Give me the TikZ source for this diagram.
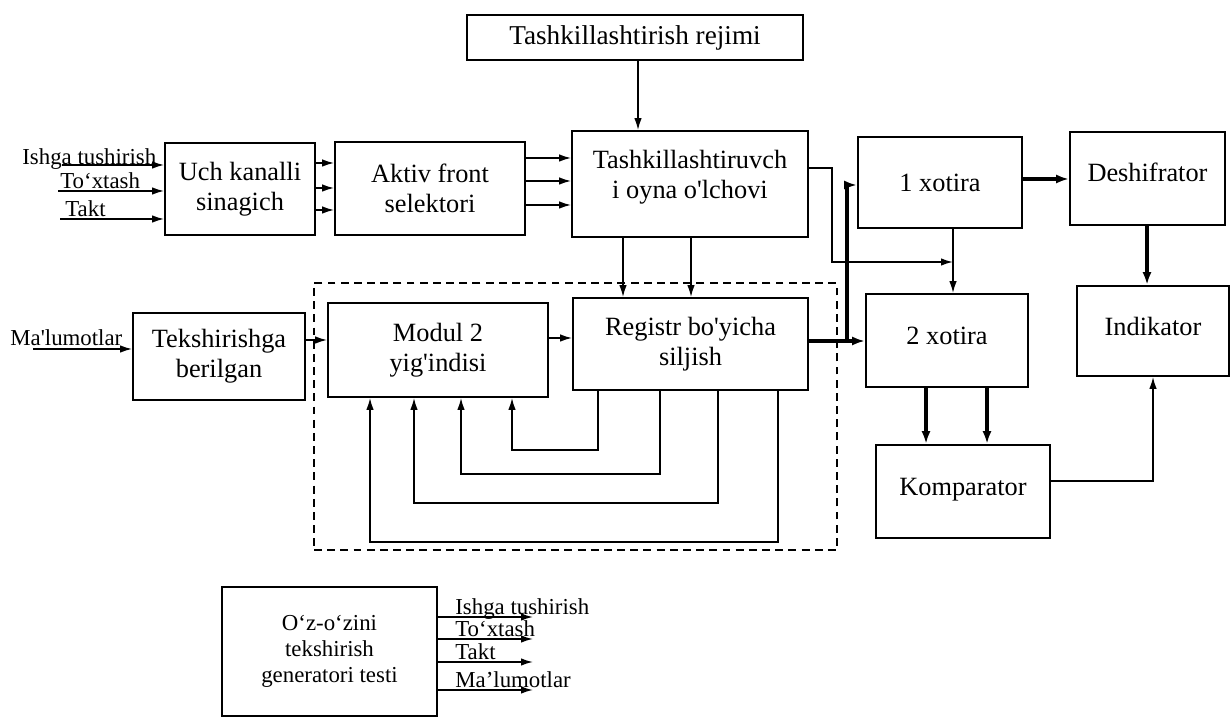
\documentclass[tikz,border=0pt]{standalone}
\usepackage{fontspec}
\setmainfont{Liberation Serif}
\usetikzlibrary{arrows.meta,positioning}
\newcommand{\ap}{\textquotesingle}

\begin{document}
\begin{tikzpicture}[
  x=0.02cm, y=-0.02cm,
  every node/.style={font=\fontsize{15}{17}\selectfont},
  box/.style={rectangle, draw, line width=1pt, align=center, inner sep=2pt},
  lbl/.style={font=\fontsize{13}{15}\selectfont, inner sep=0pt, anchor=base west},
  arr/.style={-{Latex[length=2.4mm,width=1.5mm]}, line width=0.9pt},
  bus/.style={-{Latex[length=2.6mm,width=1.8mm]}, line width=2pt},
]
\useasboundingbox (0,0) rectangle (1231,719);

\node[box, minimum width=6.72cm, minimum height=0.9cm, font=\fontsize{15.5}{17}\selectfont, text depth=3pt] (rejim) at (635,37.5) {Tashkillashtirish rejimi};
\node[box, minimum width=3cm, minimum height=1.84cm] (uch) at (240,189) {Uch kanalli\\sinagich};
\node[box, minimum width=3.8cm, minimum height=1.86cm] (aktiv) at (430,188.5) {Aktiv front\\selektori};
\node[box, minimum width=4.72cm, minimum height=2.12cm, text depth=11pt] (tashk) at (690,184) {Tashkillashtiruvch\\i oyna o\ap lchovi};
\node[box, minimum width=3.28cm, minimum height=1.82cm] (xot1) at (940,182.5) {1 xotira};
\node[box, minimum width=3.1cm, minimum height=1.86cm, text depth=7pt] (desh) at (1147.5,178.5) {Deshifrator};
\node[box, minimum width=3.44cm, minimum height=1.74cm] (tek) at (219,356.5) {Tekshirishga\\berilgan};
\node[box, minimum width=4.4cm, minimum height=1.88cm] (modul) at (438,350) {Modul 2\\yig\ap indisi};
\node[box, minimum width=4.7cm, minimum height=1.84cm] (reg) at (690.5,344) {Registr bo\ap yicha\\siljish};
\node[box, minimum width=3.24cm, minimum height=1.86cm, text depth=5pt] (xot2) at (947,340.5) {2 xotira};
\node[box, minimum width=3.04cm, minimum height=1.8cm, text depth=5pt] (ind) at (1153,331) {Indikator};
\node[box, minimum width=3.48cm, minimum height=1.86cm, text depth=5pt] (komp) at (963,491.5) {Komparator};
\node[box, minimum width=4.3cm, minimum height=2.58cm, font=\fontsize{13}{15}\selectfont] (gen) at (329.5,651.5) {O‘z-o‘zini\\tekshirish\\generatori testi};
\node[draw, dashed, dash pattern=on 4.5pt off 3pt, line width=0.8pt, minimum width=10.46cm, minimum height=5.34cm] (grp) at (575.5,416.5) {};

\node[lbl] (lIshga) at (22,165) {Ishga tushirish};
\node[lbl] (lToxtash) at (60,189) {To‘xtash};
\node[lbl] (lTakt) at (65,217) {Takt};
\node[lbl] (lMalumot) at (10,346) {Ma\ap lumotlar};
\coordinate (cIshga) at (62,165);
\coordinate (cToxtash) at (58,191);
\coordinate (cTakt) at (60,219);
\coordinate (cMalumot) at (33,349);
\draw[arr] (cIshga) -- (cIshga -| uch.west);
\draw[arr] (cToxtash) -- (cToxtash -| uch.west);
\draw[arr] (cTakt) -- (cTakt -| uch.west);
\draw[arr] (cMalumot) -- (cMalumot -| tek.west);

\foreach \yy in {163,188,210}
  \draw[arr] (uch.east |- 0,\yy) -- (aktiv.west |- 0,\yy);
\foreach \yy in {158,181,205}
  \draw[arr] (aktiv.east |- 0,\yy) -- (tashk.west |- 0,\yy);
\draw[arr] (rejim.south -| 638,0) -- (tashk.north -| 638,0);
\foreach \xx in {623,691}
  \draw[arr] (tashk.south -| \xx,0) -- (reg.north -| \xx,0);

\coordinate (m1) at (953,262);
\draw[arr] (tashk.east |- 0,168) -| (832,262) -- (m1);
\draw[arr] (xot1.south -| 953,0) -- (xot2.north -| 953,0);

\draw[arr] (tek.east |- 0,340) -- (modul.west |- 0,340);
\draw[arr] (modul.east |- 0,338) -- (reg.west |- 0,338);
\foreach \xa/\xb/\yy in {598/512/450, 660/461/474, 718/414/503, 778/370/542}
  \draw[arr] (reg.south -| \xa,0) |- (\xb,\yy) -- (modul.south -| \xb,0);

\coordinate (br) at (847,341);
\draw[bus] (reg.east |- 0,341) -- (xot2.west |- 0,341);
\draw[bus] (br) |- (xot1.west |- 0,185);
\draw[bus] (xot1.east |- 0,179) -- (desh.west |- 0,179);
\draw[bus] (desh.south -| 1147,0) -- (ind.north -| 1147,0);
\foreach \xx in {926,987}
  \draw[bus] (xot2.south -| \xx,0) -- (komp.north -| \xx,0);
\draw[arr] (komp.east |- 0,481) -| (ind.south);

\foreach \yy/\txt/\nm in {617/Ishga tushirish/o1, 639/To‘xtash/o2, 662/Takt/o3, 690/Ma’lumotlar/o4}{
  \coordinate (\nm) at (533,\yy);
  \draw[arr] (gen.east |- \nm) -- (\nm);
  \node[lbl] (l\nm) at (455,\yy-3) {\txt};
}
\end{tikzpicture}
\end{document}
